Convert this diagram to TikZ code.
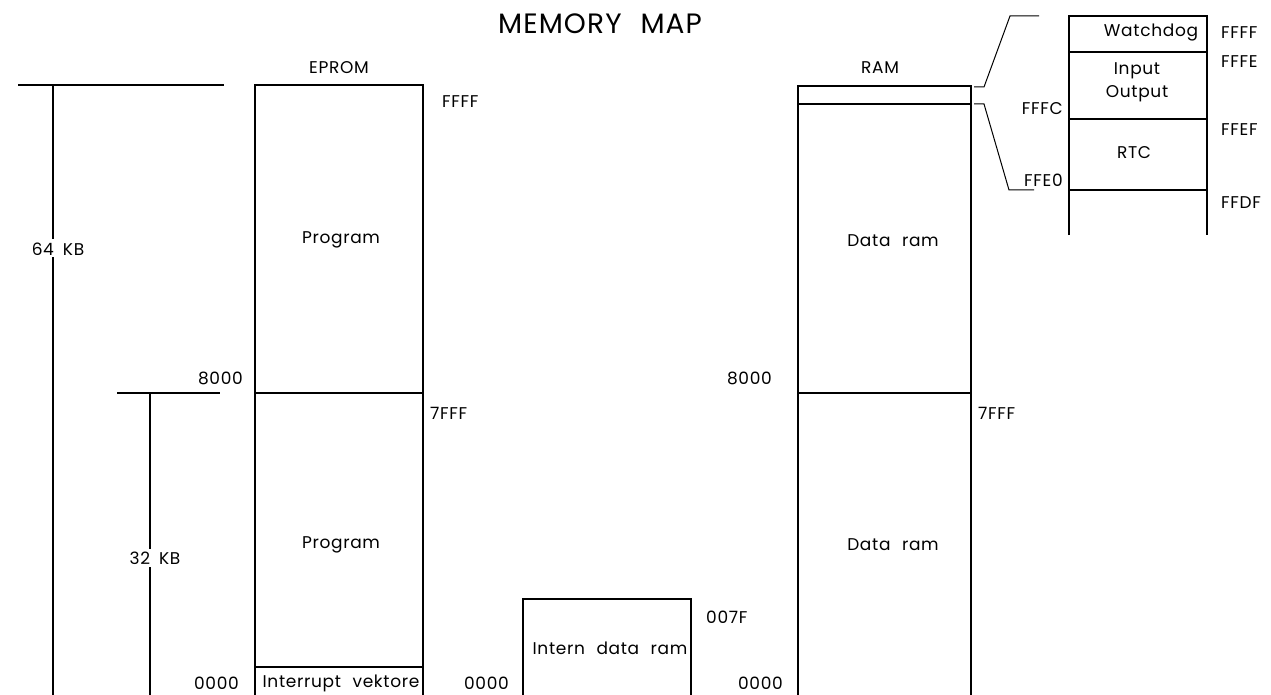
\documentclass[tikz,border=0pt]{standalone}
\usepackage{fontspec}
\setmainfont{Poppins}[LetterSpace=4, WordSpace=2.2]
\begin{document}
\begin{tikzpicture}[x=1pt,y=-1pt,
  ln/.style={line width=1.3pt, black},
  thin/.style={line width=1pt, black},
  lbl/.style={inner sep=0pt, font=\fontsize{17}{20}\selectfont},
  ttl/.style={inner sep=0pt, font=\fontsize{28}{32}\selectfont}]
\useasboundingbox (0,0) rectangle (1271,695);
% title
\node[ttl] (title) at (600,24) {MEMORY MAP};
% size brackets
\node[lbl] (k64) at (58,249) {64\hspace{9pt}KB};
\node[lbl] (k32) at (155,558) {32\hspace{9pt}KB};
\coordinate (t64) at (18,85);
\coordinate (t64e) at (224,85);
\coordinate (t32) at (117,393);
\coordinate (t32e) at (220,393);
\draw[ln] (t64) -- (t64e);
\draw[ln] (53,85) -- (53,239);
\draw[ln] (53,257) -- (53,695);
\draw[ln] (t32) -- (t32e);
\draw[ln] (150,393) -- (150,549);
\draw[ln] (150,567) -- (150,695);
% EPROM
\node[lbl] (eprom) at (339,68) {EPROM};
\draw[ln] (255,695) -- (255,85) -- (423,85) -- (423,695);
\draw[ln] (255,393) -- (423,393);
\draw[ln] (255,667) -- (423,667);
\node[lbl] (p1) at (341,240) {Program};
\node[lbl] (p2) at (341,545) {Program};
\node[lbl] (iv) at (341,683) {Interrupt vektore};
\node[lbl, anchor=west] (effff) at (442,102) {FFFF};
\node[lbl, anchor=west] (e7fff) at (430,413) {7FFF};
\node[lbl, anchor=east] (e8000) at (243,378) {8000};
\node[lbl, anchor=east] (e0000) at (239,683) {0000};
% intern data ram
\draw[ln] (523,695) -- (523,599) -- (691,599) -- (691,695);
\node[lbl] (idr) at (610,648) {Intern data ram};
\node[lbl, anchor=west] (i007f) at (706,617) {007F};
\node[lbl, anchor=east] (i0000) at (509,683) {0000};
% RAM
\node[lbl] (ram) at (880,68) {RAM};
\draw[ln] (798,695) -- (798,86) -- (971,86) -- (971,695);
\draw[ln] (798,104) -- (971,104);
\draw[ln] (798,393) -- (971,393);
\node[lbl] (d1) at (893,241) {Data ram};
\node[lbl] (d2) at (893,545) {Data ram};
\node[lbl, anchor=east] (r8000) at (772,378) {8000};
\node[lbl, anchor=east] (r0000) at (783,683) {0000};
\node[lbl, anchor=west] (r7fff) at (978,413) {7FFF};
% callout
\coordinate (ca1) at (974,87);
\coordinate (ca2) at (984,87);
\coordinate (ca3) at (1010,16);
\coordinate (ca4) at (1039,16);
\coordinate (cb1) at (974,104);
\coordinate (cb2) at (984,104);
\coordinate (cb3) at (1009,190);
\coordinate (cb4) at (1034,190);
\draw[thin] (ca1) -- (ca2) -- (ca3) -- (ca4);
\draw[thin] (cb1) -- (cb2) -- (cb3) -- (cb4);
% detail
\draw[ln] (1069,235) -- (1069,16) -- (1207,16) -- (1207,235);
\draw[ln] (1069,52) -- (1207,52);
\draw[ln] (1069,119) -- (1207,119);
\draw[ln] (1069,190) -- (1207,190);
\node[lbl] (wd) at (1151,33) {Watchdog};
\node[lbl, align=center, font=\fontsize{17}{23}\selectfont] (io) at (1137,82) {Input\\Output};
\node[lbl] (rtc) at (1134,153) {RTC};
\node[lbl, anchor=west] (fffff) at (1221,33) {FFFF};
\node[lbl, anchor=west] (fffe) at (1221,62) {FFFE};
\node[lbl, anchor=west] (ffef) at (1221,130) {FFEF};
\node[lbl, anchor=west] (ffdf) at (1221,203) {FFDF};
\node[lbl, anchor=east] (fffc) at (1063,109) {FFFC};
\node[lbl, anchor=east] (ffe0) at (1063,180) {FFE0};
\end{tikzpicture}
\end{document}
